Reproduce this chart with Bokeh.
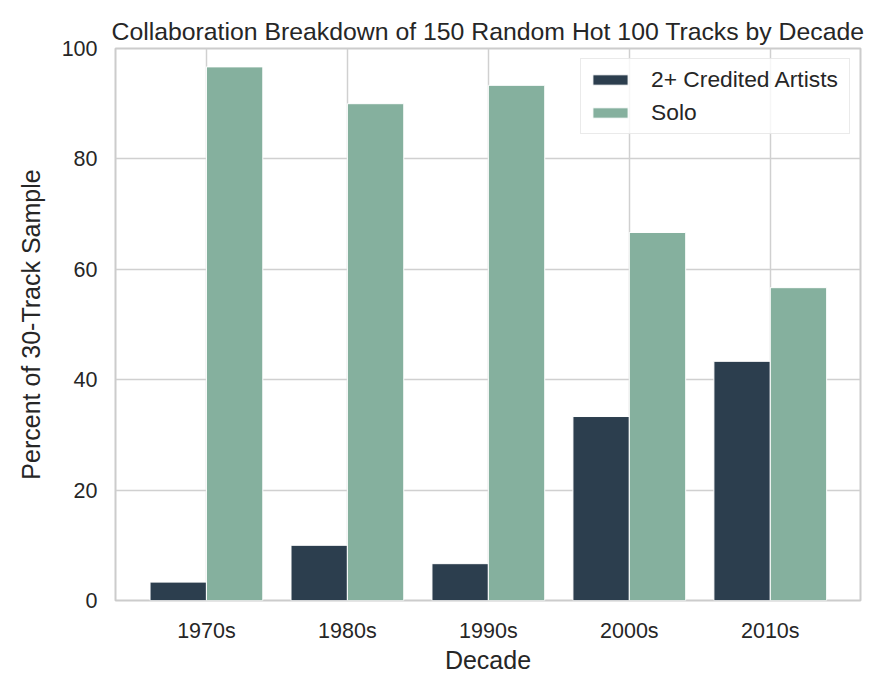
from bokeh.plotting import figure
from bokeh.models import ColumnDataSource, Range1d, FixedTicker, Legend, LegendItem
from bokeh.transform import dodge
from bokeh.embed import file_html
from bokeh.resources import INLINE

decades = ["1970s", "1980s", "1990s", "2000s", "2010s"]
collab = [3.33, 10.0, 6.67, 33.33, 43.33]
solo = [96.67, 90.0, 93.33, 66.67, 56.67]
series_names = ["2+ Credited Artists", "Solo"]
colors = ["#2c3e4e", "#85b09e"]

pos = list(range(len(decades)))
src = ColumnDataSource(dict(x=pos, collab=collab, solo=solo))

FONT = "Liberation Sans"
TXT = "#262626"

p = figure(width=869, height=680, output_backend="svg", toolbar_location=None,
           x_range=Range1d(-0.645, 4.64), y_range=Range1d(0, 100),
           min_border_left=115, min_border_right=9, min_border_top=48, min_border_bottom=80,
           title="Collaboration Breakdown of 150 Random Hot 100 Tracks by Decade")

r1 = p.vbar(x=dodge("x", -0.2, range=p.x_range), top="collab", width=0.4, source=src,
            fill_color=colors[0], line_color="white", line_width=1)
r2 = p.vbar(x=dodge("x", 0.2, range=p.x_range), top="solo", width=0.4, source=src,
            fill_color=colors[1], line_color="white", line_width=1)

p.title.text_font = FONT
p.title.text_font_size = "24.8px"
p.title.text_font_style = "normal"
p.title.text_color = TXT
p.title.align = "center"
p.title.standoff = 8

p.xaxis.ticker = FixedTicker(ticks=pos)
p.xaxis.major_label_overrides = {i: d for i, d in enumerate(decades)}
p.yaxis.ticker = FixedTicker(ticks=[0, 20, 40, 60, 80, 100])
p.xaxis.axis_label = "Decade"
p.yaxis.axis_label = "Percent of 30-Track Sample"

for ax in (p.xaxis[0], p.yaxis[0]):
    ax.axis_line_color = None
    ax.major_tick_line_color = None
    ax.minor_tick_line_color = None
    ax.major_tick_in = 0
    ax.major_tick_out = 0
    ax.minor_tick_in = 0
    ax.minor_tick_out = 0
    ax.major_label_text_font = FONT
    ax.major_label_text_font_size = "21.5px"
    ax.major_label_text_color = TXT
    ax.axis_label_text_font = FONT
    ax.axis_label_text_font_size = "25px"
    ax.axis_label_text_font_style = "normal"
    ax.axis_label_text_color = TXT

p.xaxis.major_label_standoff = 18
p.xaxis.axis_label_standoff = 0
p.yaxis.major_label_standoff = 18
p.yaxis.axis_label_standoff = 14

p.xgrid.grid_line_color = "#d0d0d0"
p.ygrid.grid_line_color = "#d0d0d0"
p.xgrid.grid_line_width = 1.5
p.ygrid.grid_line_width = 1.5

p.outline_line_color = "#cccccc"
p.outline_line_width = 2
p.background_fill_color = "white"
p.border_fill_color = "white"

legend = Legend(items=[LegendItem(label=series_names[0], renderers=[r1]),
                       LegendItem(label=series_names[1], renderers=[r2])],
                location="top_right")
legend.label_text_font = FONT
legend.label_text_font_size = "22.8px"
legend.label_text_color = TXT
legend.glyph_width = 44
legend.glyph_height = 13
legend.label_height = 22
legend.label_width = 191
legend.label_standoff = 19
legend.spacing = 6
legend.padding = 7
legend.margin = 10
legend.border_line_color = "#d5d5d5"
legend.border_line_width = 1.5
legend.background_fill_alpha = 0.8
p.add_layout(legend)

open("out.html", "w").write(file_html(p, INLINE))
